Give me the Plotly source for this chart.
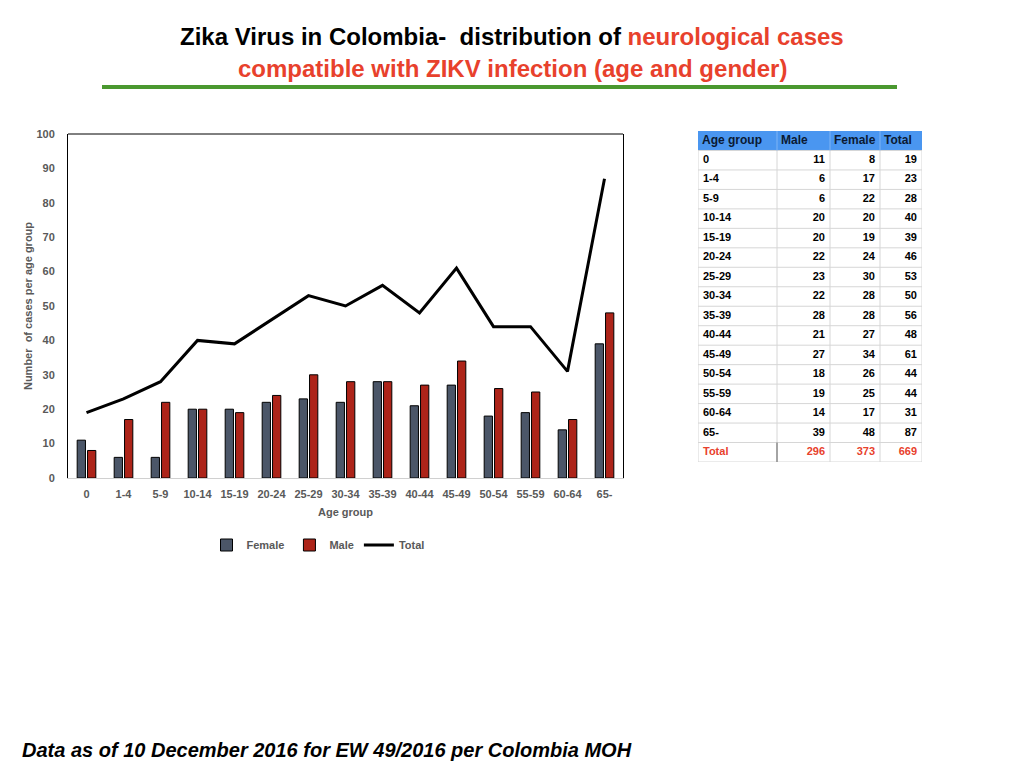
import plotly.graph_objects as go

# ---- data ----
age_groups = ["0", "1-4", "5-9", "10-14", "15-19", "20-24", "25-29", "30-34",
              "35-39", "40-44", "45-49", "50-54", "55-59", "60-64", "65-"]
female_bar_values = [11, 6, 6, 20, 20, 22, 23, 22, 28, 21, 27, 18, 19, 14, 39]
male_bar_values = [8, 17, 22, 20, 19, 24, 30, 28, 28, 27, 34, 26, 25, 17, 48]
total_values = [19, 23, 28, 40, 39, 46, 53, 50, 56, 48, 61, 44, 44, 31, 87]
y_ticks = [0, 10, 20, 30, 40, 50, 60, 70, 80, 90, 100]

table_headers = ["Age group", "Male", "Female", "Total"]
table_male = [11, 6, 6, 20, 20, 22, 23, 22, 28, 21, 27, 18, 19, 14, 39]
table_female = [8, 17, 22, 20, 19, 24, 30, 28, 28, 27, 34, 26, 25, 17, 48]
table_total = [19, 23, 28, 40, 39, 46, 53, 50, 56, 48, 61, 44, 44, 31, 87]
table_total_label = "Total"
table_sums = [296, 373, 669]

# ---- layout helpers (page pixels -> paper fractions) ----
W, H = 1024, 768
OFF = 8  # page body offset
def px(x):
    return (x - OFF) / W
def py(y):
    return 1 - (y - OFF) / H

FONT = "Liberation Sans, Arial, sans-serif"
GRAY = "#595959"
RED = "#e8412c"
TABLE_RED = "#e8412c"

fig = go.Figure()

# ---- chart ----
fig.add_trace(go.Bar(
    x=age_groups, y=female_bar_values, name="Female",
    marker=dict(color="#4b5668", line=dict(color="black", width=1)),
    xaxis="x", yaxis="y",
))
fig.add_trace(go.Bar(
    x=age_groups, y=male_bar_values, name="Male",
    marker=dict(color="#ad2419", line=dict(color="black", width=1)),
    xaxis="x", yaxis="y",
))
fig.add_trace(go.Scatter(
    x=age_groups, y=total_values, name="Total", mode="lines",
    line=dict(color="black", width=3),
    xaxis="x", yaxis="y",
))

# ---- table (text traces on their own axes) ----
col_edges = [698, 777, 830, 880, 922]   # layout: column borders
n = len(age_groups)
rows_data = list(range(1, n + 1))
row_total = n + 1
n_rows = n + 2
pad = 5

def add_text(xs, ys, texts, pos, colors, size):
    fig.add_trace(go.Scatter(
        x=xs, y=ys, mode="text", text=texts, textposition=pos,
        textfont=dict(family=FONT, size=size, color=colors),
        xaxis="x2", yaxis="y2", showlegend=False, hoverinfo="skip",
        cliponaxis=False,
    ))

# header
add_text([e + 4 for e in col_edges[:-1]], [0] * 4,
         [f"<b>{h}</b>" for h in table_headers], "middle right", "#0b1a33", 12)
# age group column
add_text([col_edges[0] + pad] * (n + 1), rows_data + [row_total],
         [f"<b>{a}</b>" for a in age_groups] + [f"<b>{table_total_label}</b>"],
         "middle right", ["black"] * n + [TABLE_RED], 11)
# numeric columns
for ci, (vals, s) in enumerate(zip([table_male, table_female, table_total], table_sums)):
    xr = col_edges[ci + 2] - pad
    add_text([xr] * (n + 1), rows_data + [row_total],
             [f"<b>{v}</b>" for v in vals] + [f"<b>{s}</b>"],
             "middle left", ["black"] * n + [TABLE_RED], 11)

shapes = []
# header fill
shapes.append(dict(type="rect", xref="x2", yref="y2", x0=col_edges[0], x1=col_edges[-1],
                   y0=-0.5, y1=0.5, fillcolor="#4a96f0", line=dict(width=0), layer="below"))
# horizontal lines
for k in range(1, n_rows + 1):
    shapes.append(dict(type="line", xref="x2", yref="y2", x0=col_edges[0], x1=col_edges[-1],
                       y0=k - 0.5, y1=k - 0.5, line=dict(color="#d6d6d6", width=1)))
# vertical lines
for e in col_edges:
    shapes.append(dict(type="line", xref="x2", yref="y2", x0=e, x1=e,
                       y0=0.5, y1=n_rows - 0.5, line=dict(color="#d6d6d6", width=1)))
for e in col_edges[1:-1]:
    shapes.append(dict(type="line", xref="x2", yref="y2", x0=e, x1=e,
                       y0=-0.5, y1=0.5, line=dict(color="#7fb4f5", width=1)))
shapes.append(dict(type="line", xref="x2", yref="y2", x0=col_edges[1], x1=col_edges[1],
                   y0=row_total - 0.5, y1=row_total + 0.5, line=dict(color="#8c8c8c", width=1.5)))

# chart frame + green rule
shapes.append(dict(type="line", xref="paper", yref="paper", x0=px(68), x1=px(623),
                   y0=py(134), y1=py(134), line=dict(color="black", width=1)))
shapes.append(dict(type="line", xref="paper", yref="paper", x0=px(102), x1=px(897),
                   y0=py(87), y1=py(87), line=dict(color="#4a982f", width=4)))

fig.update_layout(
    width=W, height=H,
    margin=dict(l=0, r=0, t=0, b=0, autoexpand=False),
    paper_bgcolor="white", plot_bgcolor="white",
    barmode="group", bargap=0.44, bargroupgap=0.2,
    font=dict(family=FONT),
    showlegend=True,
    legend=dict(
        orientation="h", x=px(318), xanchor="center", y=py(545), yanchor="middle",
        font=dict(size=11, color=GRAY, family=FONT, weight="bold"),
        itemwidth=30, tracegroupgap=0, traceorder="normal",
    ),
    xaxis=dict(
        domain=[px(68), px(623)],
        showline=True, linecolor="#d0d0d0", linewidth=1,
        ticks="", showgrid=False, ticklabelstandoff=6,
        tickfont=dict(size=11, color=GRAY, family=FONT, weight="bold"),
        title=dict(text="<b>Age group</b>", font=dict(size=11, color=GRAY), standoff=9),
    ),
    yaxis=dict(
        domain=[py(478), py(134)],
        range=[0, 100], tickvals=y_ticks,
        showline=True, linecolor="black", linewidth=1, mirror=True,
        showgrid=False, zeroline=False, ticks="", ticklabelstandoff=10,
        tickfont=dict(size=11, color=GRAY, family=FONT, weight="bold"),
        title=dict(text="<b>Number  of cases per age group</b>", font=dict(size=11, color=GRAY), standoff=1),
    ),
    xaxis2=dict(domain=[px(col_edges[0]), px(col_edges[-1])],
                range=[col_edges[0], col_edges[-1]], visible=False, fixedrange=True),
    yaxis2=dict(domain=[py(462), py(131)], range=[n_rows - 0.5, -0.5],
                visible=False, fixedrange=True),
    shapes=shapes,
    annotations=[
        dict(xref="paper", yref="paper", x=px(512), y=py(37), xanchor="center", yanchor="middle",
             showarrow=False,
             text="<b>Zika Virus in Colombia-  distribution of </b><b><span style='color:" + RED + "'>neurological cases</span></b>",
             font=dict(size=24, color="black", family=FONT)),
        dict(xref="paper", yref="paper", x=px(512), y=py(68), xanchor="center", yanchor="middle",
             showarrow=False,
             text="<b>compatible with ZIKV infection (age and gender)</b>",
             font=dict(size=24, color=RED, family=FONT)),
        dict(xref="paper", yref="paper", x=px(20), y=py(750), xanchor="left", yanchor="middle",
             showarrow=False,
             text="<b><i>Data as of 10 December 2016 for EW 49/2016 per Colombia MOH</i></b>",
             font=dict(size=20, color="black", family=FONT)),
    ],
)

fig.write_html("out.html")
